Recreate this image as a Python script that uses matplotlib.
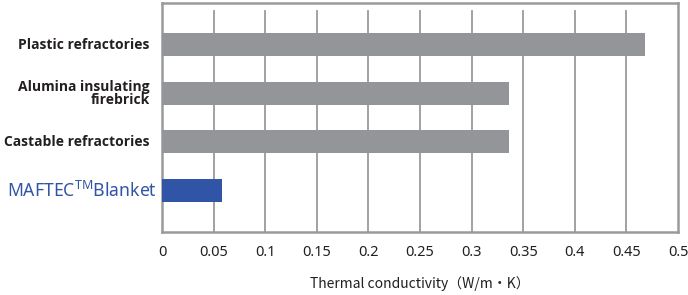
import matplotlib.pyplot as plt

plt.rcParams["mathtext.fontset"] = "custom"
plt.rcParams["mathtext.rm"] = "Noto Sans"

categories = ["Plastic refractories", "Alumina insulating\nfirebrick",
              "Castable refractories", r"MAFTEC$^{\mathrm{TM}}$Blanket"]
values = [0.468, 0.336, 0.336, 0.058]
bar_colors = ["#939598", "#939598", "#939598", "#3155a6"]
xticks = [0, 0.05, 0.1, 0.15, 0.2, 0.25, 0.3, 0.35, 0.4, 0.45, 0.5]
xtick_labels = ["0", "0.05", "0.1", "0.15", "0.2", "0.25", "0.3", "0.35", "0.4", "0.45", "0.5"]
xlabel = "Thermal conductivity（W/m・K）"

fig = plt.figure(figsize=(6.88, 2.95), dpi=100)
ax = fig.add_axes([162 / 688, 1 - 232 / 295, 516 / 688, 229 / 295])

pos = list(range(len(categories)))
ax.barh(pos, values, height=0.47, color=bar_colors, zorder=3)

# gridlines stop a little short of the top border
for t in xticks[1:-1]:
    ax.axvline(t, ymin=0, ymax=0.965, color="#9a9a9a", lw=1.3, zorder=1)

ax.set_xlim(0, 0.5)
ax.set_ylim(3.86, -0.86)
ax.set_xticks(xticks)
ax.set_xticklabels(xtick_labels, fontsize=10.5, color="#231f20", family="Noto Sans")
ax.tick_params(axis="x", length=0, pad=9)
ax.set_yticks(pos)
ax.set_yticklabels([])
ax.tick_params(axis="y", length=0)

for s in ax.spines.values():
    s.set_color("#9a9a9a")
    s.set_linewidth(1.8)

# category labels
for i, (lab, c) in enumerate(zip(categories, bar_colors)):
    if i == 3:
        ax.text(-0.005, i + 0.02, lab, ha="right", va="center", fontsize=12.7,
                color="#3155a6", family="Noto Sans")
    else:
        ax.text(-0.012, i, lab, ha="right", va="center", fontsize=10,
                fontweight="bold", color="#231f20", family="Open Sans",
                multialignment="right", linespacing=0.95)

ax.set_xlabel(xlabel, fontsize=10, color="#231f20",
              family=["Noto Sans CJK JP", "DejaVu Sans"], labelpad=12)

fig.savefig("out.png", dpi=100)
